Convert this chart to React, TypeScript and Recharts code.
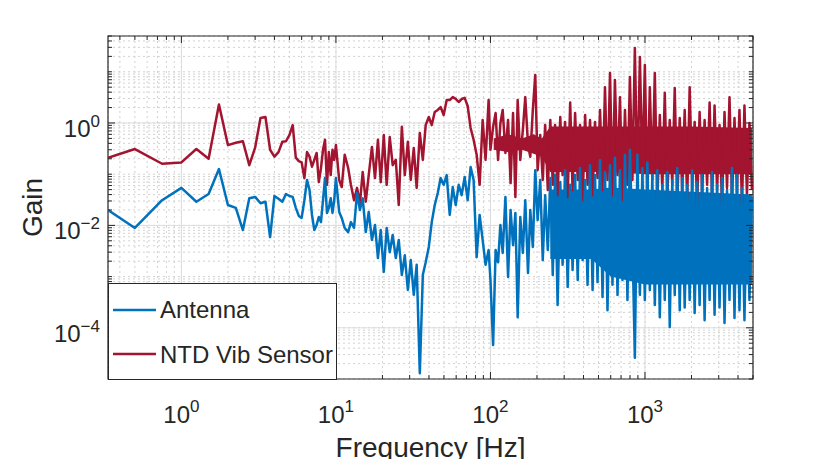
import {
  Area,
  CartesianGrid,
  ComposedChart,
  Label,
  Legend,
  Line,
  ReferenceArea,
  XAxis,
  YAxis,
} from 'recharts'

// Frequency bins [Hz] (0.25 Hz spacing at the low end, thinned out above 10 Hz)
const freqLow = [
  0.335, 0.5, 0.75, 1, 1.25, 1.5, 1.75, 2, 2.25, 2.5, 2.75, 3, 3.25, 3.5, 3.75,
  4, 4.25, 4.5, 4.75, 5, 5.25, 5.5, 5.75, 6, 6.25, 6.5, 6.75, 7, 7.25, 7.5,
  7.75, 8, 8.25, 8.5, 8.75, 9, 9.25, 9.5, 9.75,
]
const freqMid = [
  10, 10.5, 10.9, 11.4, 12, 12.5, 13.1, 13.7, 14.3, 14.9, 15.6, 16.3, 17.1,
  17.9, 18.7, 19.5, 20.4, 21.3, 22.3, 23.3, 24.4, 25.5, 26.7, 27.9, 29.2, 30.5,
  31.9, 33.3, 34.9, 36.5, 38.1, 39.9, 41.7, 43.6, 45.6, 47.6, 49.8, 52.1, 54.5,
  57, 59.6, 62.3, 65.1, 68.1, 71.2, 74.4, 77.8, 81.4, 85.1, 89, 93, 97.3,
]
const freqHigh = [
  100, 104, 108, 112, 116, 120, 125, 130, 135, 140, 145, 150, 156, 162, 168,
  175, 181, 188, 195, 202, 210, 218, 226, 235, 244, 253, 262, 272, 283, 293,
  304, 316, 328, 340, 353, 367, 380, 395, 410, 425, 441, 458, 475, 493, 512,
  531, 551, 572, 594, 616, 639, 664, 689, 715, 742, 770, 799, 829, 860, 893,
  927, 962, 998, 1036, 1075, 1115, 1158, 1201, 1247, 1294, 1343, 1394, 1446,
  1501, 1558, 1617, 1678, 1741, 1807, 1875, 1946, 2020, 2096, 2175, 2257, 2343,
  2431, 2523, 2619, 2717, 2820, 2927, 3037, 3152, 3271, 3395, 3523, 3657, 3795,
  3938, 4087, 4242, 4402, 4568, 4741, 4920,
]

// Antenna gain
const antennaLow = [
  0.02, 0.0089, 0.031, 0.054, 0.029, 0.041, 0.126, 0.025, 0.022, 0.0081, 0.034,
  0.036, 0.027, 0.029, 0.0059, 0.0375, 0.033, 0.029, 0.041, 0.0375, 0.036,
  0.022, 0.0153, 0.014, 0.031, 0.077, 0.049, 0.016, 0.0081, 0.0102, 0.0146,
  0.0116, 0.031, 0.084, 0.0175, 0.022, 0.034, 0.0175, 0.031,
]
const antennaMid = [
  0.084, 0.0183, 0.014, 0.0089, 0.0074, 0.0116, 0.0089, 0.043, 0.02, 0.034,
  0.0074, 0.0183, 0.0052, 0.0102, 0.0023, 0.0081, 0.00123, 0.0089, 0.003,
  0.0065, 0.0023, 0.0052, 0.00107, 0.0026, 0.00055, 0.0021, 0.00044, 0.0017,
  0.000013, 0.00107, 0.0019, 0.0038, 0.0116, 0.025, 0.043, 0.084, 0.062, 0.096,
  0.016, 0.056, 0.025, 0.062, 0.039, 0.088, 0.031, 0.138, 0.077, 0.0024, 0.016,
  0.0052, 0.0017, 0.0033,
]
const antennaHigh = [
  0.00086, 0.000046, 0.0033, 0.0019, 0.0102, 0.0029, 0.036, 0.00098, 0.02,
  0.0041, 0.0175, 0.00016, 0.0146, 0.0029, 0.031, 0.00118, 0.02, 0.0038, 0.12,
  0.0127, 0.077, 0.0021, 0.039, 0.0033, 0.084, 0.00107, 0.096, 0.00028, 0.07,
  0.0017, 0.12, 0.00063, 0.062, 0.00135, 0.096, 0.00086, 0.132, 0.0021, 0.077,
  0.00069, 0.15, 0.00055, 0.096, 0.00078, 0.19, 0.0004, 0.11, 0.00022, 0.15,
  0.00069, 0.21, 0.00044, 0.12, 0.00086, 0.24, 0.00035, 0.3, 0.0052, 0.000026,
  0.24, 0.00044, 0.132, 0.00035, 0.17, 0.00055, 0.096, 0.00028, 0.12, 0.00016,
  0.062, 0.00035, 0.11, 0.000104, 0.077, 0.00044, 0.132, 0.00022, 0.084,
  0.00025, 0.062, 0.00035, 0.12, 0.000195, 0.07, 0.00028, 0.096, 0.00014,
  0.054, 0.00035, 0.11, 0.00018, 0.062, 0.00025, 0.084, 0.000124, 0.049,
  0.00035, 0.132, 0.000155, 0.096, 0.00022, 0.054, 0.00014, 0.039, 0.00035,
  0.036,
]

// NTD vibration sensor gain
const sensorLow = [
  0.21, 0.31, 0.16, 0.17, 0.31, 0.2, 2.3, 0.37, 0.41, 0.44, 0.15, 0.33, 1.25,
  1.31, 0.3, 0.22, 0.27, 0.43, 0.44, 0.58, 0.91, 0.21, 0.18, 0.17, 0.084, 0.27,
  0.22, 0.14, 0.19, 0.26, 0.07, 0.13, 0.3, 0.47, 0.062, 0.27, 0.096, 0.3, 0.19,
]
const sensorMid = [
  0.37, 0.077, 0.056, 0.24, 0.132, 0.062, 0.031, 0.054, 0.027, 0.11, 0.029,
  0.096, 0.34, 0.084, 0.47, 0.07, 0.58, 0.062, 0.53, 0.15, 0.19, 0.025, 0.84,
  0.096, 0.43, 0.077, 0.325, 0.054, 0.64, 0.19, 0.91, 1.31, 0.91, 1.64, 1.8,
  2.05, 1.43, 2.8, 2.8, 3.2, 2.95, 2.57, 2.94, 3.1, 2.15, 0.8, 0.47, 0.24,
  0.062, 1.14, 0.19, 2.8,
]
const sensorHigh = [
  0.3, 0.84, 1.57, 0.19, 1.0, 1.8, 0.26, 1.14, 0.067, 1.57, 0.036, 2.8, 0.19,
  0.73, 3.2, 0.37, 0.22, 1.8, 8.7, 0.12, 0.58, 0.077, 0.91, 0.049, 1.14, 0.062,
  0.91, 0.039, 1.31, 0.096, 1.05, 0.036, 2.5, 0.049, 1.57, 0.077, 0.91, 0.031,
  1.43, 0.062, 1.14, 0.039, 1.05, 0.084, 1.8, 0.049, 5.0, 0.077, 9.5, 0.039,
  6.9, 0.096, 3.2, 0.031, 1.8, 0.062, 7.9, 0.077, 29, 0.062, 19.5, 0.096, 13.6,
  0.039, 5.0, 0.077, 9.5, 0.025, 1.43, 0.049, 3.9, 0.031, 1.14, 0.062, 4.8,
  0.025, 1.25, 0.045, 1.8, 0.031, 5.0, 0.054, 1.05, 0.023, 1.64, 0.039, 1.14,
  0.062, 2.5, 0.031, 2.2, 0.049, 0.91, 0.025, 1.64, 0.054, 3.2, 0.031, 1.25,
  0.045, 1.8, 0.025, 2.2, 0.039, 1.0, 0.049,
]

// Solid core of the densely oscillating high-frequency part (low / high edge)
const antennaCoreFreq = [244, 450, 600, 1000, 4920]
const antennaCoreLo = [0.0022, 0.0022, 0.001, 0.0007, 0.0007]
const antennaCoreHi = [0.05, 0.05, 0.055, 0.05, 0.04]
const sensorCoreFreq = [105, 130, 160, 190, 215, 244, 600, 1000, 2000, 4920]
const sensorCoreLo = [0.3, 0.27, 0.3, 0.25, 0.22, 0.11, 0.11, 0.1, 0.1, 0.1]
const sensorCoreHi = [0.5, 0.6, 0.5, 0.6, 0.5, 0.85, 0.85, 0.85, 0.85, 0.8]

const SERIES = [
  { key: 'antenna', name: 'Antenna', color: '#0072BD' },
  { key: 'sensor', name: 'NTD Vib Sensor', color: '#A2142F' },
]
const BLUE = SERIES[0].color
const RED = SERIES[1].color

const X_MAJOR = [1, 10, 100, 1000]
const Y_MAJOR = [1e-4, 1e-2, 1]
const X_DECADES = [0.1, 1, 10, 100, 1000]
const Y_DECADES = [1e-5, 1e-4, 1e-3, 1e-2, 1e-1, 1, 10]
const X_DOMAIN: [number, number] = [0.335, 5000]
const Y_DOMAIN: [number, number] = [1e-5, 50]

const freqHz = [...freqLow, ...freqMid, ...freqHigh]
const antenna = [...antennaLow, ...antennaMid, ...antennaHigh]
const sensor = [...sensorLow, ...sensorMid, ...sensorHigh]
const data = freqHz.map((f, i) => ({ f, antenna: antenna[i], sensor: sensor[i] }))
const antennaCore = antennaCoreFreq.map((f, i) => ({ f, band: [antennaCoreLo[i], antennaCoreHi[i]] }))
const sensorCore = sensorCoreFreq.map((f, i) => ({ f, band: [sensorCoreLo[i], sensorCoreHi[i]] }))

// log axes: 1..9 of every decade inside the domain
function decadeTicks(decades: number[], [lo, hi]: [number, number]) {
  return decades
    .flatMap((d) => [1, 2, 3, 4, 5, 6, 7, 8, 9].map((k) => +(k * d).toPrecision(3)))
    .filter((v) => v >= lo && v <= hi)
}
const xTicks = decadeTicks(X_DECADES, X_DOMAIN)
const yTicks = decadeTicks(Y_DECADES, Y_DOMAIN)

const CHART_W = 815
const CHART_H = 459
const MARGIN = { top: 28, right: 70, bottom: 0, left: 0 }
const Y_AXIS_W = 100
const X_AXIS_H = 88
const PLOT_W = CHART_W - MARGIN.left - MARGIN.right - Y_AXIS_W
const PLOT_H = CHART_H - MARGIN.top - MARGIN.bottom - X_AXIS_H

const FONT = "'Liberation Sans', Arial, Helvetica, sans-serif"
const INK = '#262626'
const GRID_MAJOR = '#dcdcdc'
const GRID_MINOR = '#d2d2d2'

function expLabel(v: number) {
  const e = Math.round(Math.log10(v))
  return e < 0 ? `\u2212${-e}` : `${e}`
}

function XTick({ x, y, payload }: any) {
  const v = payload.value
  const major = X_MAJOR.includes(v)
  const len = major ? 7 : 4
  return (
    <g>
      <line x1={x} x2={x} y1={y} y2={y - len} stroke={INK} />
      <line x1={x} x2={x} y1={y - PLOT_H} y2={y - PLOT_H + len} stroke={INK} />
      {major && (
        <text x={x} y={y + 44} textAnchor="middle" fill={INK} fontFamily={FONT} fontSize={24}>
          10
          <tspan dy={-11} fontSize={17}>
            {expLabel(v)}
          </tspan>
        </text>
      )}
    </g>
  )
}

function YTick({ x, y, payload }: any) {
  const v = payload.value
  const major = Y_MAJOR.includes(v)
  const len = major ? 7 : 4
  return (
    <g>
      <line x1={x} x2={x + len} y1={y} y2={y} stroke={INK} />
      <line x1={x + PLOT_W} x2={x + PLOT_W - len} y1={y} y2={y} stroke={INK} />
      {major && (
        <text x={x - 8} y={y + 14} textAnchor="end" fill={INK} fontFamily={FONT} fontSize={24}>
          10
          <tspan dy={-10} fontSize={17}>
            {expLabel(v)}
          </tspan>
        </text>
      )}
    </g>
  )
}

function XTitle({ viewBox }: any) {
  return (
    <text
      x={viewBox.x + viewBox.width / 2}
      y={viewBox.y + 78}
      textAnchor="middle"
      fill={INK}
      fontFamily={FONT}
      fontSize={28}
    >
      Frequency [Hz]
    </text>
  )
}

function YTitle({ viewBox }: any) {
  return (
    <text
      transform={`translate(34, ${viewBox.y + viewBox.height / 2}) rotate(-90)`}
      textAnchor="middle"
      fill={INK}
      fontFamily={FONT}
      fontSize={28}
    >
      Gain
    </text>
  )
}

function LegendBox() {
  return (
    <div
      style={{
        width: 229,
        height: 97,
        boxSizing: 'border-box',
        border: `1px solid ${INK}`,
        background: '#fff',
      }}
    >
      <svg width={227} height={95} style={{ display: 'block' }}>
        {SERIES.map((s, i) => (
          <g key={s.key}>
            <line x1={4} x2={47} y1={26 + i * 44} y2={26 + i * 44} stroke={s.color} strokeWidth={2.5} />
            <text x={51} y={34 + i * 45} fill={INK} fontFamily={FONT} fontSize={24}>
              {s.name}
            </text>
          </g>
        ))}
      </svg>
    </div>
  )
}

export default function App() {
  return (
    <div style={{ marginBottom: -8 }}>
      <ComposedChart width={CHART_W} height={CHART_H} data={data} margin={MARGIN}>
        <CartesianGrid stroke={GRID_MINOR} strokeDasharray="2 3" />
        <CartesianGrid stroke={GRID_MAJOR} verticalValues={X_MAJOR} horizontalValues={Y_MAJOR} />
        <XAxis
          dataKey="f"
          type="number"
          scale="log"
          domain={X_DOMAIN}
          allowDataOverflow
          ticks={xTicks}
          interval={0}
          tick={<XTick />}
          tickLine={false}
          axisLine={false}
          tickSize={0}
          tickMargin={0}
          height={X_AXIS_H}
        >
          <Label content={XTitle} />
        </XAxis>
        <YAxis
          type="number"
          scale="log"
          domain={Y_DOMAIN}
          allowDataOverflow
          ticks={yTicks}
          interval={0}
          tick={<YTick />}
          tickLine={false}
          axisLine={false}
          tickSize={0}
          tickMargin={0}
          width={Y_AXIS_W}
        >
          <Label content={YTitle} />
        </YAxis>
        <Area
          data={sensorCore}
          dataKey="band"
          type="linear"
          stroke="none"
          fill={RED}
          fillOpacity={1}
          isAnimationActive={false}
        />
        <Line
          dataKey="sensor"
          name="NTD Vib Sensor"
          stroke={RED}
          strokeWidth={2.5}
          strokeLinejoin="round"
          dot={false}
          isAnimationActive={false}
        />
        <Area
          data={antennaCore}
          dataKey="band"
          type="linear"
          stroke="none"
          fill={BLUE}
          fillOpacity={1}
          isAnimationActive={false}
        />
        <Line
          dataKey="antenna"
          name="Antenna"
          stroke={BLUE}
          strokeWidth={2.5}
          strokeLinejoin="round"
          dot={false}
          isAnimationActive={false}
        />
        <ReferenceArea
          x1={X_DOMAIN[0]}
          x2={X_DOMAIN[1]}
          y1={Y_DOMAIN[0]}
          y2={Y_DOMAIN[1]}
          fill="none"
          stroke={INK}
          strokeWidth={1.2}
        />
        <Legend
          layout="horizontal"
          verticalAlign="middle"
          align="center"
          wrapperStyle={{ position: 'absolute', left: 100, top: 275, width: 229, height: 97, margin: 0 }}
          content={() => <LegendBox />}
        />
      </ComposedChart>
    </div>
  )
}
